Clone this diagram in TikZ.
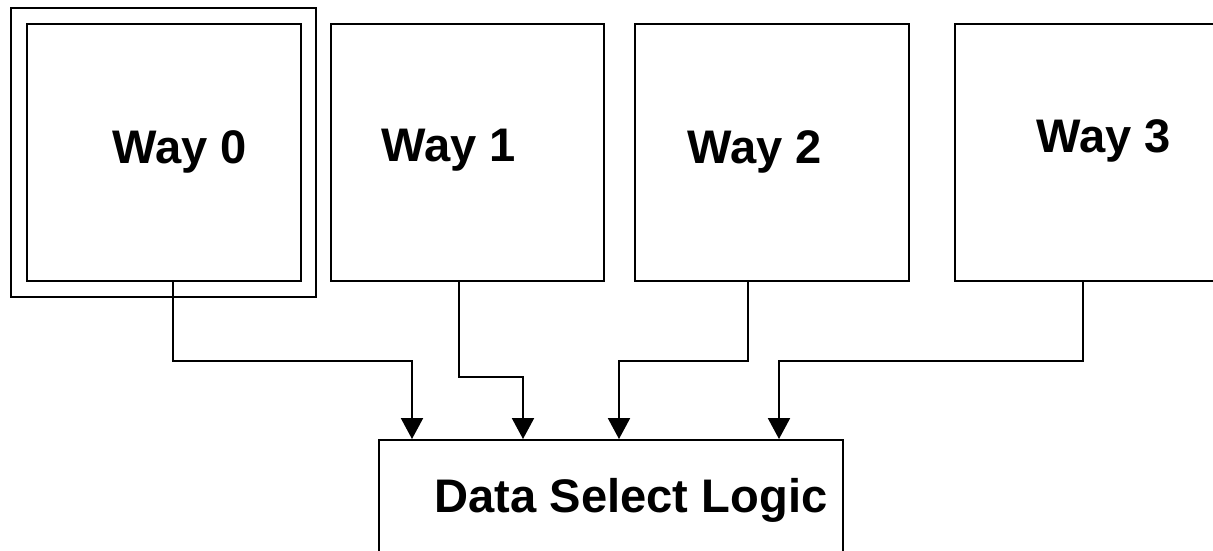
\documentclass[tikz,border=0pt]{standalone}
\usepackage{fontspec}
\setmainfont{Liberation Sans}
\usetikzlibrary{arrows.meta,calc,positioning}
\tikzset{
  way/.style={draw, line width=1.4pt, minimum width=6.83cm, minimum height=6.43cm, inner sep=0pt},
  way name/.style={font=\fontsize{33.5}{40}\selectfont\bfseries, anchor=base, inner sep=0pt},
  bus/.style={-{Triangle[width=0.55cm,length=0.52cm]}, line width=1.1pt},
}
\begin{document}
\begin{tikzpicture}[x=0.025cm, y=-0.025cm]

  \path[use as bounding box, clip] (0,0) rectangle (1213,551);

  % Ways (way 0 has a double frame)
  \node[way, minimum width=7.625cm, minimum height=7.225cm] (w0frame) at (163.5,152.5) {};
  \node[way] (w0) at (164,152.5) {};
  \node[way] (w1) at (467.5,152.5) {};
  \node[way] (w2) at (772,152.5) {};
  \node[way] (w3) at (1091.5,152.5) {};

  \node[way name] (w0name) at (179.5,164) {Way 0};
  \node[way name] (w1name) at (449,162) {Way 1};
  \node[way name] (w2name) at (754.5,164) {Way 2};
  \node[way name] (w3name) at (1104,153) {Way 3};

  % Data select logic
  \node[draw, line width=1.4pt, minimum width=11.6cm, minimum height=3.5cm] (dsl) at (611,510) {};
  \node[way name] (dslname) at (631,512) {Data Select Logic};

  % Buses from the ways down to the select logic
  \draw[bus] ($(w0.south)+(9,0)$) -- ++(0,79) -| ($(dsl.north)+(-199,0)$);
  \draw[bus] ($(w1.south)+(-8.5,0)$) -- ++(0,95) -| ($(dsl.north)+(-88,0)$);
  \draw[bus] ($(w2.south)+(-24,0)$) -- ++(0,79) -| ($(dsl.north)+(8,0)$);
  \draw[bus] ($(w3.south)+(-8.5,0)$) -- ++(0,79) -| ($(dsl.north)+(168,0)$);

\end{tikzpicture}
\end{document}
